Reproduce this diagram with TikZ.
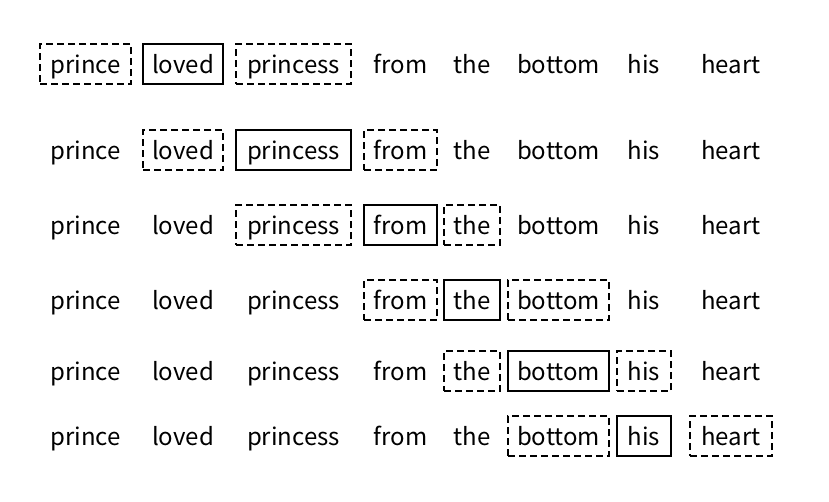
\documentclass[tikz,border=0pt]{standalone}
\usepackage{fontspec}
\setmainfont{Noto Sans CJK JP}

\begin{document}
\begin{tikzpicture}[x=1pt,y=-1pt,
  lvl2/.style={inner sep=0pt, minimum height=40pt, text height=20pt, text depth=2pt,
    font=\fontsize{24}{28}\selectfont},
  lvl0/.style={lvl2, draw, line width=1.8pt},
  lvl1/.style={lvl2, draw, line width=1.8pt, dash pattern=on 7pt off 4pt}]
\useasboundingbox (0,0) rectangle (829,501);
% one row per position of the centre word
\foreach \r/\y in {1/64,2/150,3/225,4/300,5/371,6/436} {
  \foreach \w/\x/\b [count=\i] in {prince/85.5/91,loved/183/80,princess/293.5/115,
      from/400.5/73,the/472/56,bottom/558.5/101,his/644/54,heart/731/82} {
    \pgfmathtruncatemacro\d{min(abs(\i-\r-1),2)}
    \node[lvl\d, minimum width=\b] (w\r-\i) at (\x,\y) {\w};
  }
}
\end{tikzpicture}
\end{document}
